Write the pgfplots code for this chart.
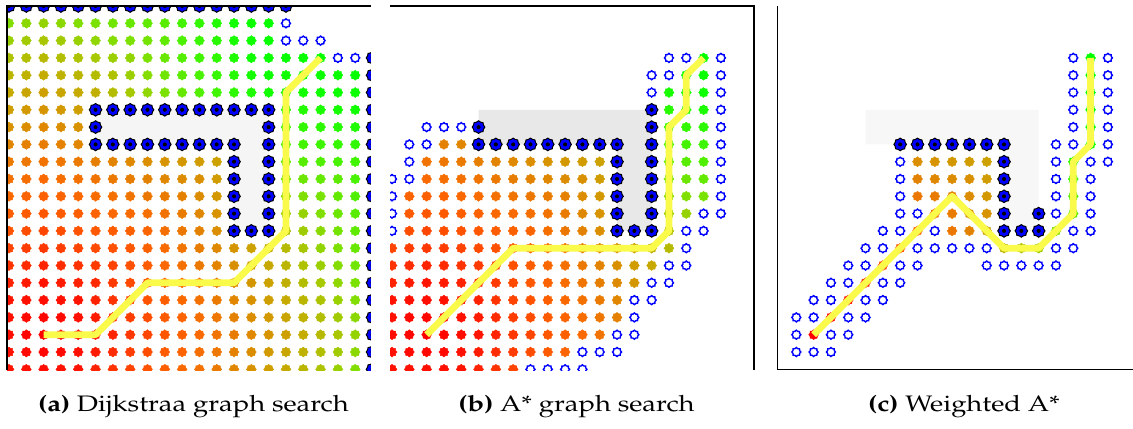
\documentclass[border=0pt]{standalone}
\usepackage[T1]{fontenc}
\usepackage{mathpazo}
\usepackage{graphicx}
\usepackage{pgfplots}
\usepackage{pgfplotstable}
\pgfplotsset{compat=1.18}
\definecolor{pathy}{RGB}{250,250,75}
\newcommand\blobpath[1]{%
\pgfpathmoveto{\pgfpointpolar{0}{\pgfplotmarksize}}%
\pgfpathlineto{\pgfpointpolar{22.5}{#1\pgfplotmarksize}}%
\pgfpathlineto{\pgfpointpolar{45}{\pgfplotmarksize}}%
\pgfpathlineto{\pgfpointpolar{67.5}{#1\pgfplotmarksize}}%
\pgfpathlineto{\pgfpointpolar{90}{\pgfplotmarksize}}%
\pgfpathlineto{\pgfpointpolar{112.5}{#1\pgfplotmarksize}}%
\pgfpathlineto{\pgfpointpolar{135}{\pgfplotmarksize}}%
\pgfpathlineto{\pgfpointpolar{157.5}{#1\pgfplotmarksize}}%
\pgfpathlineto{\pgfpointpolar{180}{\pgfplotmarksize}}%
\pgfpathlineto{\pgfpointpolar{202.5}{#1\pgfplotmarksize}}%
\pgfpathlineto{\pgfpointpolar{225}{\pgfplotmarksize}}%
\pgfpathlineto{\pgfpointpolar{247.5}{#1\pgfplotmarksize}}%
\pgfpathlineto{\pgfpointpolar{270}{\pgfplotmarksize}}%
\pgfpathlineto{\pgfpointpolar{292.5}{#1\pgfplotmarksize}}%
\pgfpathlineto{\pgfpointpolar{315}{\pgfplotmarksize}}%
\pgfpathlineto{\pgfpointpolar{337.5}{#1\pgfplotmarksize}}%
\pgfpathclose}
\pgfdeclareplotmark{blob}{\blobpath{0.8}\pgfusepathqfillstroke}
\pgfdeclareplotmark{coll}{\blobpath{0.85}\pgfsetfillcolor{blue}\pgfsetstrokecolor{black}\pgfsetlinewidth{1bp}\pgfusepath{fill,stroke}%
\pgfpathcircle{\pgfpointorigin}{0.32\pgfplotmarksize}\pgfsetfillcolor{black}\pgfusepath{fill}}
\pgfplotsset{
colormap={gmap}{rgb255(0pt)=(255,0,0) rgb255(3pt)=(255,20,0) rgb255(5pt)=(255,55,0) rgb255(7pt)=(255,86,0) rgb255(9pt)=(250,106,0) rgb255(11pt)=(232,124,0) rgb255(13pt)=(214,148,0) rgb255(15pt)=(196,172,0) rgb255(17pt)=(170,198,0) rgb255(19pt)=(126,224,0) rgb255(22pt)=(66,244,0) rgb255(25pt)=(16,255,0) rgb255(28pt)=(0,255,0)},
panel/.style={at={#1}, anchor=south west, width=364bp, height=364bp, scale only axis,
 xmin=-0.1155, xmax=20.913, ymin=0, ymax=21.04, y dir=reverse, hide axis,
 clip marker paths=true,
 colormap name=gmap, point meta min=0, point meta max=28},
colnodes/.style={scatter, only marks, mark=blob, mark size=5bp,
 scatter/use mapped color={draw=mapped color, fill=mapped color}, point meta=\thisrow{g}},
collnodes/.style={only marks, mark=coll, mark size=6.3bp},
opennodes/.style={only marks, mark=blob, mark size=4.5bp, mark options={draw=blue, fill=white, line width=1.4bp}},
pathline/.style={color=pathy, line width=6.7bp, line join=round, mark=none},
}
% ---------- panel (a): Dijkstra ----------
\pgfplotstableread[row sep=\\]{
i r g\\
0 1 18.8\\1 1 18.4\\2 1 18\\3 1 18.4\\4 1 18.8\\5 1 19.2\\6 1 19.7\\7 1 20.1\\8 1 20.5\\9 1 20.9\\10 1 21.9\\11 1 22.9\\12 1 23.9\\13 1 24.9\\14 1 25.9\\15 1 26.9\\
0 2 17.8\\1 2 17.4\\2 2 17\\3 2 17.4\\4 2 17.8\\5 2 18.2\\6 2 18.7\\7 2 19.1\\8 2 19.5\\9 2 20.5\\10 2 21.5\\11 2 22.5\\12 2 23.5\\13 2 24.5\\14 2 25.5\\15 2 26.5\\
0 3 16.8\\1 3 16.4\\2 3 16\\3 3 16.4\\4 3 16.8\\5 3 17.2\\6 3 17.7\\7 3 18.1\\8 3 19.1\\9 3 20.1\\10 3 21.1\\11 3 22.1\\12 3 23.1\\13 3 24.1\\14 3 25.1\\15 3 26.1\\16 3 26.5\\17 3 26.9\\18 3 27.3\\
0 4 15.8\\1 4 15.4\\2 4 15\\3 4 15.4\\4 4 15.8\\5 4 16.2\\6 4 16.7\\7 4 17.7\\8 4 18.7\\9 4 19.7\\10 4 20.7\\11 4 21.7\\12 4 22.7\\13 4 23.7\\14 4 24.7\\15 4 25.7\\16 4 25.5\\17 4 25.9\\18 4 26.3\\19 4 26.7\\20 4 27.1\\
0 5 14.8\\1 5 14.4\\2 5 14\\3 5 14.4\\4 5 14.8\\5 5 15.2\\6 5 16.2\\7 5 17.2\\8 5 18.2\\9 5 19.2\\10 5 20.2\\11 5 21.2\\12 5 22.2\\13 5 23.2\\14 5 24.2\\15 5 24.9\\16 5 24.5\\17 5 24.9\\18 5 25.3\\19 5 25.7\\20 5 26.1\\
0 6 13.8\\1 6 13.4\\2 6 13\\3 6 13.4\\4 6 13.8\\16 6 23.5\\17 6 23.9\\18 6 24.3\\19 6 24.7\\20 6 25.1\\
0 7 12.8\\1 7 12.4\\2 7 12\\3 7 12.4\\4 7 12.8\\16 7 22.5\\17 7 22.9\\18 7 23.3\\19 7 23.7\\20 7 24.1\\
0 8 11.8\\1 8 11.4\\2 8 11\\3 8 11.4\\4 8 11.8\\16 8 21.5\\17 8 21.9\\18 8 22.3\\19 8 22.7\\20 8 23.1\\
0 9 10.8\\1 9 10.4\\2 9 10\\3 9 10.4\\4 9 10.8\\5 9 11.2\\6 9 11.7\\7 9 12.1\\8 9 12.5\\9 9 12.9\\10 9 13.3\\11 9 13.7\\12 9 14.1\\16 9 20.5\\17 9 20.9\\18 9 21.3\\19 9 21.7\\20 9 22.1\\
0 10 9.8\\1 10 9.4\\2 10 9\\3 10 9.4\\4 10 9.8\\5 10 10.2\\6 10 10.7\\7 10 11.1\\8 10 11.5\\9 10 11.9\\10 10 12.3\\11 10 12.7\\12 10 13.7\\16 10 19.5\\17 10 19.9\\18 10 20.3\\19 10 20.7\\20 10 21.7\\
0 11 8.8\\1 11 8.4\\2 11 8\\3 11 8.4\\4 11 8.8\\5 11 9.2\\6 11 9.7\\7 11 10.1\\8 11 10.5\\9 11 10.9\\10 11 11.3\\11 11 12.3\\12 11 13.3\\16 11 18.5\\17 11 18.9\\18 11 19.3\\19 11 20.3\\20 11 21.3\\
0 12 7.8\\1 12 7.4\\2 12 7\\3 12 7.4\\4 12 7.8\\5 12 8.2\\6 12 8.7\\7 12 9.1\\8 12 9.5\\9 12 9.9\\10 12 10.9\\11 12 11.9\\12 12 12.9\\16 12 17.5\\17 12 17.9\\18 12 18.9\\19 12 19.9\\20 12 20.9\\
0 13 6.8\\1 13 6.4\\2 13 6\\3 13 6.4\\4 13 6.8\\5 13 7.2\\6 13 7.7\\7 13 8.1\\8 13 8.5\\9 13 9.5\\10 13 10.5\\11 13 11.5\\12 13 12.5\\16 13 16.5\\17 13 17.5\\18 13 18.5\\19 13 19.5\\20 13 20.5\\
0 14 5.8\\1 14 5.4\\2 14 5\\3 14 5.4\\4 14 5.8\\5 14 6.2\\6 14 6.7\\7 14 7.1\\8 14 8.1\\9 14 9.1\\10 14 10.1\\11 14 11.1\\12 14 12.1\\13 14 13.1\\14 14 14.1\\15 14 15.1\\16 14 16.1\\17 14 17.1\\18 14 18.1\\19 14 19.1\\20 14 20.1\\
0 15 4.8\\1 15 4.4\\2 15 4\\3 15 4.4\\4 15 4.8\\5 15 5.2\\6 15 5.7\\7 15 6.7\\8 15 7.7\\9 15 8.7\\10 15 9.7\\11 15 10.7\\12 15 11.7\\13 15 12.7\\14 15 13.7\\15 15 14.7\\16 15 15.7\\17 15 16.7\\18 15 17.7\\19 15 18.7\\20 15 19.7\\
0 16 3.8\\1 16 3.4\\2 16 3\\3 16 3.4\\4 16 3.8\\5 16 4.2\\6 16 5.2\\7 16 6.2\\8 16 7.2\\9 16 8.2\\10 16 9.2\\11 16 10.2\\12 16 11.2\\13 16 12.2\\14 16 13.2\\15 16 14.2\\16 16 15.2\\17 16 16.2\\18 16 17.2\\19 16 18.2\\20 16 19.2\\
0 17 2.8\\1 17 2.4\\2 17 2\\3 17 2.4\\4 17 2.8\\5 17 3.8\\6 17 4.8\\7 17 5.8\\8 17 6.8\\9 17 7.8\\10 17 8.8\\11 17 9.8\\12 17 10.8\\13 17 11.8\\14 17 12.8\\15 17 13.8\\16 17 14.8\\17 17 15.8\\18 17 16.8\\19 17 17.8\\20 17 18.8\\
0 18 2.4\\1 18 1.4\\2 18 1\\3 18 1.4\\4 18 2.4\\5 18 3.4\\6 18 4.4\\7 18 5.4\\8 18 6.4\\9 18 7.4\\10 18 8.4\\11 18 9.4\\12 18 10.4\\13 18 11.4\\14 18 12.4\\15 18 13.4\\16 18 14.4\\17 18 15.4\\18 18 16.4\\19 18 17.4\\20 18 18.4\\
0 19 2\\1 19 1\\2 19 0\\3 19 1\\4 19 2\\5 19 3\\6 19 4\\7 19 5\\8 19 6\\9 19 7\\10 19 8\\11 19 9\\12 19 10\\13 19 11\\14 19 12\\15 19 13\\16 19 14\\17 19 15\\18 19 16\\19 19 17\\20 19 18\\
0 20 2.4\\1 20 1.4\\2 20 1\\3 20 1.4\\4 20 2.4\\5 20 3.4\\6 20 4.4\\7 20 5.4\\8 20 6.4\\9 20 7.4\\10 20 8.4\\11 20 9.4\\12 20 10.4\\13 20 11.4\\14 20 12.4\\15 20 13.4\\16 20 14.4\\17 20 15.4\\18 20 16.4\\19 20 17.4\\20 20 18.4\\
0 21 2.8\\1 21 2.4\\2 21 2\\3 21 2.4\\4 21 2.8\\5 21 3.8\\6 21 4.8\\7 21 5.8\\8 21 6.8\\9 21 7.8\\10 21 8.8\\11 21 9.8\\12 21 10.8\\13 21 11.8\\14 21 12.8\\15 21 13.8\\16 21 14.8\\17 21 15.8\\18 21 16.8\\19 21 17.8\\20 21 18.8\\
}\colA
\pgfplotstableread[row sep=\\]{
i r\\
0 0\\1 0\\2 0\\3 0\\4 0\\5 0\\6 0\\7 0\\8 0\\9 0\\10 0\\11 0\\12 0\\13 0\\14 0\\15 0\\16 0\\
21 3\\21 4\\21 5\\21 6\\21 7\\21 8\\21 9\\21 10\\21 11\\21 12\\21 13\\21 14\\21 15\\21 16\\21 17\\21 18\\21 19\\21 20\\21 21\\
5 6\\6 6\\7 6\\8 6\\9 6\\10 6\\11 6\\12 6\\13 6\\14 6\\15 6\\
5 7\\15 7\\
5 8\\6 8\\7 8\\8 8\\9 8\\10 8\\11 8\\12 8\\13 8\\15 8\\
13 9\\15 9\\13 10\\15 10\\13 11\\15 11\\13 12\\15 12\\13 13\\14 13\\15 13\\
}\collA
\pgfplotstableread[row sep=\\]{
i r\\
16 1\\16 2\\17 2\\18 2\\19 3\\20 3\\
}\openA
% ---------- panel (b): A* ----------
\pgfplotstableread[row sep=\\]{
i r g\\
18 3 27.3\\
17 4 25.9\\18 4 26.3\\
16 5 24.5\\17 5 24.9\\18 5 25.3\\
16 6 23.5\\17 6 23.9\\18 6 24.3\\
16 7 22.5\\17 7 22.9\\18 7 23.3\\
3 8 11.4\\4 8 11.8\\16 8 21.5\\17 8 21.9\\18 8 22.3\\
2 9 10\\3 9 10.4\\4 9 10.8\\5 9 11.2\\6 9 11.7\\7 9 12.1\\8 9 12.5\\9 9 12.9\\10 9 13.3\\11 9 13.7\\12 9 14.1\\16 9 20.5\\17 9 20.9\\18 9 21.3\\
2 10 9\\3 10 9.4\\4 10 9.8\\5 10 10.2\\6 10 10.7\\7 10 11.1\\8 10 11.5\\9 10 11.9\\10 10 12.3\\11 10 12.7\\12 10 13.7\\16 10 19.5\\17 10 19.9\\18 10 20.3\\
1 11 8.4\\2 11 8\\3 11 8.4\\4 11 8.8\\5 11 9.2\\6 11 9.7\\7 11 10.1\\8 11 10.5\\9 11 10.9\\10 11 11.3\\11 11 12.3\\12 11 13.3\\16 11 18.5\\17 11 18.9\\18 11 19.3\\
1 12 7.4\\2 12 7\\3 12 7.4\\4 12 7.8\\5 12 8.2\\6 12 8.7\\7 12 9.1\\8 12 9.5\\9 12 9.9\\10 12 10.9\\11 12 11.9\\12 12 12.9\\16 12 17.5\\17 12 17.9\\
1 13 6.4\\2 13 6\\3 13 6.4\\4 13 6.8\\5 13 7.2\\6 13 7.7\\7 13 8.1\\8 13 8.5\\9 13 9.5\\10 13 10.5\\11 13 11.5\\12 13 12.5\\16 13 16.5\\
0 14 5.8\\1 14 5.4\\2 14 5\\3 14 5.4\\4 14 5.8\\5 14 6.2\\6 14 6.7\\7 14 7.1\\8 14 8.1\\9 14 9.1\\10 14 10.1\\11 14 11.1\\12 14 12.1\\13 14 13.1\\14 14 14.1\\15 14 15.1\\16 14 16.1\\
0 15 4.8\\1 15 4.4\\2 15 4\\3 15 4.4\\4 15 4.8\\5 15 5.2\\6 15 5.7\\7 15 6.7\\8 15 7.7\\9 15 8.7\\10 15 9.7\\11 15 10.7\\12 15 11.7\\13 15 12.7\\14 15 13.7\\15 15 14.7\\
0 16 3.8\\1 16 3.4\\2 16 3\\3 16 3.4\\4 16 3.8\\5 16 4.2\\6 16 5.2\\7 16 6.2\\8 16 7.2\\9 16 8.2\\10 16 9.2\\11 16 10.2\\12 16 11.2\\13 16 12.2\\14 16 13.2\\
0 17 2.8\\1 17 2.4\\2 17 2\\3 17 2.4\\4 17 2.8\\5 17 3.8\\6 17 4.8\\7 17 5.8\\8 17 6.8\\9 17 7.8\\10 17 8.8\\11 17 9.8\\12 17 10.8\\13 17 11.8\\
0 18 2.4\\1 18 1.4\\2 18 1\\3 18 1.4\\4 18 2.4\\5 18 3.4\\6 18 4.4\\7 18 5.4\\8 18 6.4\\9 18 7.4\\10 18 8.4\\11 18 9.4\\12 18 10.4\\13 18 11.4\\
0 19 2\\1 19 1\\2 19 0\\3 19 1\\4 19 2\\5 19 3\\6 19 4\\7 19 5\\8 19 6\\9 19 7\\10 19 8\\11 19 9\\12 19 10\\
0 20 2.4\\1 20 1.4\\2 20 1\\3 20 1.4\\4 20 2.4\\5 20 3.4\\6 20 4.4\\7 20 5.4\\8 20 6.4\\9 20 7.4\\10 20 8.4\\
0 21 2.8\\1 21 2.4\\2 21 2\\3 21 2.4\\4 21 2.8\\5 21 3.8\\6 21 4.8\\7 21 5.8\\
}\colB
\pgfplotstableread[row sep=\\]{
i r\\
15 6\\5 7\\15 7\\
5 8\\6 8\\7 8\\8 8\\9 8\\10 8\\11 8\\12 8\\13 8\\15 8\\
13 9\\15 9\\13 10\\15 10\\13 11\\15 11\\13 12\\15 12\\13 13\\14 13\\15 13\\
}\collB
\pgfplotstableread[row sep=\\]{
i r\\
16 3\\17 3\\19 3\\15 4\\16 4\\19 4\\15 5\\19 5\\19 6\\
2 7\\3 7\\4 7\\19 7\\1 8\\2 8\\19 8\\1 9\\19 9\\0 10\\1 10\\19 10\\0 11\\19 11\\
0 12\\18 12\\19 12\\0 13\\17 13\\18 13\\17 14\\16 15\\17 15\\15 16\\16 16\\
14 17\\15 17\\14 18\\13 19\\14 19\\11 20\\12 20\\13 20\\8 21\\9 21\\10 21\\11 21\\
}\openB
% ---------- panel (c): weighted A* ----------
\pgfplotstableread[row sep=\\]{
i r g\\
2 19 0\\3 18 1.4\\4 17 2.8\\5 16 4.2\\6 15 5.7\\7 14 7.1\\8 13 8.5\\9 12 9.9\\10 11 11.3\\
11 12 12.7\\12 13 14.1\\13 14 15.6\\14 14 16.6\\15 14 17.6\\16 13 19\\17 12 20.4\\17 11 21.4\\
17 10 22.4\\17 9 23.4\\18 8 24.8\\18 7 25.8\\18 6 26.8\\18 5 27.8\\18 4 28.8\\18 3 29.8\\
8 9 12.5\\9 9 12.9\\10 9 13.3\\11 9 13.7\\12 9 14.1\\
8 10 11.5\\9 10 11.9\\10 10 12.3\\11 10 12.7\\12 10 13.7\\
8 11 10.5\\9 11 10.9\\11 11 12.3\\12 11 13.3\\
10 12 10.9\\12 12 12.9\\10 13 10.5\\11 13 11.5\\
}\colC
\pgfplotstableread[row sep=\\]{
i r\\
7 8\\8 8\\9 8\\10 8\\11 8\\12 8\\13 8\\
13 9\\13 10\\13 11\\13 12\\15 12\\13 13\\14 13\\15 13\\
}\collC
\pgfplotstableread[row sep=\\]{
i r\\
17 3\\19 3\\17 4\\19 4\\17 5\\19 5\\17 6\\19 6\\17 7\\19 7\\
16 8\\17 8\\19 8\\7 9\\16 9\\18 9\\19 9\\7 10\\16 10\\18 10\\7 11\\16 11\\18 11\\
7 12\\8 12\\16 12\\18 12\\6 13\\7 13\\9 13\\17 13\\18 13\\
5 14\\6 14\\8 14\\9 14\\10 14\\11 14\\12 14\\16 14\\17 14\\
4 15\\5 15\\7 15\\8 15\\12 15\\13 15\\14 15\\15 15\\16 15\\
3 16\\4 16\\6 16\\7 16\\2 17\\3 17\\5 17\\6 17\\1 18\\2 18\\4 18\\5 18\\
1 19\\3 19\\4 19\\1 20\\2 20\\3 20\\
}\openC
\begin{document}
\begin{tikzpicture}[x=1bp,y=1bp]
\useasboundingbox (0,0) rectangle (1133,428);
% (a) -- axis made wider so that the clipped column at its right edge is drawn, then masked
\begin{axis}[panel={(7bp,58bp)}, width=374.4bp, xmax=21.513]
\addplot[fill=black!4, draw=none] coordinates {(5,6) (15,6) (15,13) (13,13) (13,8) (5,8)} -- cycle;
\addplot[colnodes] table[x=i,y=r] {\colA};
\addplot[collnodes] table[x=i,y=r] {\collA};
\addplot[opennodes] table[x=i,y=r] {\openA};
\addplot[pathline] coordinates {(2,19) (5,19) (8,16) (13,16) (16,13) (16,5) (18,3)};
\end{axis}
\fill[white] (371.3,50) rectangle (388.5,428);
% (b)
\begin{axis}[panel={(390bp,58bp)}]
\addplot[fill=black!9, draw=none] coordinates {(5,6) (15,6) (15,13) (13,13) (13,8) (5,8)} -- cycle;
\addplot[colnodes] table[x=i,y=r] {\colB};
\addplot[collnodes] table[x=i,y=r] {\collB};
\addplot[opennodes] table[x=i,y=r] {\openB};
\addplot[pathline] coordinates {(2,19) (7,14) (15,14) (16,13) (16,7) (17,6) (17,4) (18,3)};
\end{axis}
% (c)
\begin{axis}[panel={(777bp,58bp)}]
\addplot[fill=black!3, draw=none] coordinates {(5,6) (15,6) (15,13) (13,13) (13,8) (5,8)} -- cycle;
\addplot[colnodes] table[x=i,y=r] {\colC};
\addplot[collnodes] table[x=i,y=r] {\collC};
\addplot[opennodes] table[x=i,y=r] {\openC};
\addplot[pathline] coordinates {(2,19) (10,11) (13,14) (15,14) (17,12) (17,9) (18,8) (18,3)};
\end{axis}
% frames
\draw[line width=1.3bp] (7,58) -- (7,422) -- (371,422);
\draw[line width=2.4bp] (390,422) -- (754,422) -- (754,58);
\draw[line width=1bp] (777,422) -- (777,59) -- (1133,59);
% captions
\node[anchor=base, inner sep=0] at (193.5,17) {\fontsize{22.5}{27}\selectfont\scalebox{1.22}[1]{\textbf{(a)} Dijkstraa graph search}};
\node[anchor=base, inner sep=0] at (576.5,17) {\fontsize{22.5}{27}\selectfont\scalebox{1.22}[1]{\textbf{(b)} A* graph search}};
\node[anchor=base, inner sep=0] at (964,17) {\fontsize{22.5}{27}\selectfont\scalebox{1.22}[1]{\textbf{(c)} Weighted A*}};
\end{tikzpicture}
\end{document}
